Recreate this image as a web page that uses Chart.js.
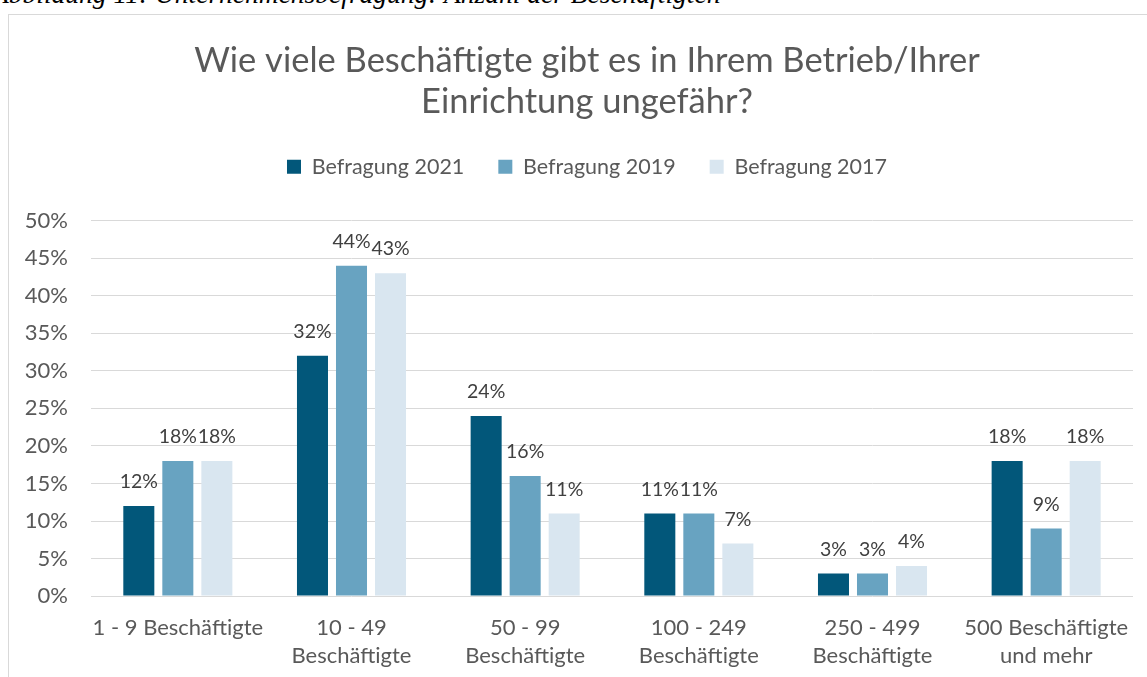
<!DOCTYPE html>
<html>
<head>
<meta charset="utf-8">
<script src="https://cdn.jsdelivr.net/npm/chart.js@4"></script>
<style>
  html, body { margin: 0; padding: 0; background: #fff; overflow: hidden; width: 1147px; height: 677px; }
  #caption { position: absolute; left: -8px; top: -20px; font: italic 27.5px "Liberation Serif", serif; color: #000; white-space: nowrap; line-height: 27px; }
  #frame { position: absolute; left: 8px; top: 14px; width: 1158px; height: 690px; border: 1px solid #d9d9d9; box-sizing: border-box; }
  #wrap { position: absolute; left: 8px; top: 14px; width: 1158px; height: 690px; }
</style>
</head>
<body>
<div id="caption">Abbildung 11: Unternehmensbefragung: Anzahl der Beschäftigten</div>
<div id="frame"></div>
<div id="wrap"><canvas id="chart"></canvas></div>
<script>
var categories = [
    "1 - 9 Beschäftigte",
    ["10 - 49", "Beschäftigte"],
    ["50 - 99", "Beschäftigte"],
    ["100 - 249", "Beschäftigte"],
    ["250 - 499", "Beschäftigte"],
    ["500 Beschäftigte", "und mehr"]
];
var seriesNames = ["Befragung 2021", "Befragung 2019", "Befragung 2017"];
var values2021 = [12, 32, 24, 11, 3, 18];
var values2019 = [18, 44, 16, 11, 3, 9];
var values2017 = [18, 43, 11, 7, 4, 18];
var yTicks = [0, 5, 10, 15, 20, 25, 30, 35, 40, 45, 50];
var colors = ["#02577a", "#68a3c1", "#d9e6f0"];

var FONT = "Lato";
var SMALL = 22;

// draws the percent labels above each bar
var barLabels = {
    id: "barLabels",
    afterDatasetsDraw: function (chart) {
        var ctx = chart.ctx;
        ctx.save();
        ctx.font = "19.5px " + FONT;
        ctx.fillStyle = "#404040";
        ctx.textAlign = "center";
        ctx.textBaseline = "alphabetic";
        chart.data.datasets.forEach(function (ds, i) {
            chart.getDatasetMeta(i).data.forEach(function (bar, j) {
                ctx.fillText(ds.data[j] + "%", bar.x, bar.y - 18);
            });
        });
        ctx.restore();
    }
};

var ctx = document.getElementById("chart").getContext("2d");
var myChart = new Chart(ctx, {
    type: "bar",
    data: {
        labels: categories,
        datasets: [
            { label: seriesNames[0], data: values2021, backgroundColor: colors[0] },
            { label: seriesNames[1], data: values2019, backgroundColor: colors[1] },
            { label: seriesNames[2], data: values2017, backgroundColor: colors[2] }
        ]
    },
    options: {
        responsive: true,
        maintainAspectRatio: false,
        animation: false,
        categoryPercentage: 0.674,
        barPercentage: 0.795,
        layout: { padding: { top: 0, left: 0, right: 0, bottom: 16 } },
        plugins: {
            title: {
                display: true,
                text: ["Wie viele Beschäftigte gibt es in Ihrem Betrieb/Ihrer", "Einrichtung ungefähr?"],
                color: "#595959",
                font: { family: FONT, size: 34.5, weight: "normal", lineHeight: 1.19 },
                padding: { top: 26, bottom: 0 }
            },
            legend: {
                position: "top",
                labels: {
                    color: "#595959",
                    font: { family: FONT, size: 21.5 },
                    boxWidth: 14,
                    boxHeight: 14,
                    padding: 34
                }
            },
            tooltip: { enabled: false }
        },
        scales: {
            x: {
                grid: { display: false, drawTicks: false },
                border: { display: false },
                ticks: {
                    color: "#595959",
                    font: { family: FONT, size: SMALL, lineHeight: 1.27 },
                    padding: 18,
                    maxRotation: 0,
                    autoSkip: false
                }
            },
            gap: {
                type: "category",
                position: "top",
                grid: { display: false, drawTicks: false },
                border: { display: false },
                ticks: { display: false },
                afterFit: function (scale) { scale.height = 33; }
            },
            y: {
                min: 0,
                max: 50,
                afterBuildTicks: function (scale) {
                    scale.ticks = yTicks.map(function (v) { return { value: v }; });
                },
                afterFit: function (scale) { scale.width = 83; },
                grid: { color: "#d9d9d9", lineWidth: 1, drawTicks: false },
                border: { display: false },
                ticks: {
                    color: "#595959",
                    font: { family: FONT, size: SMALL },
                    padding: 23,
                    callback: function (v) { return v + "%"; }
                }
            },
            right: {
                type: "linear",
                position: "right",
                grid: { display: false, drawTicks: false },
                border: { display: false },
                ticks: { display: false },
                afterFit: function (scale) { scale.width = 33; }
            }
        }
    },
    plugins: [barLabels]
});
</script>
</body>
</html>
